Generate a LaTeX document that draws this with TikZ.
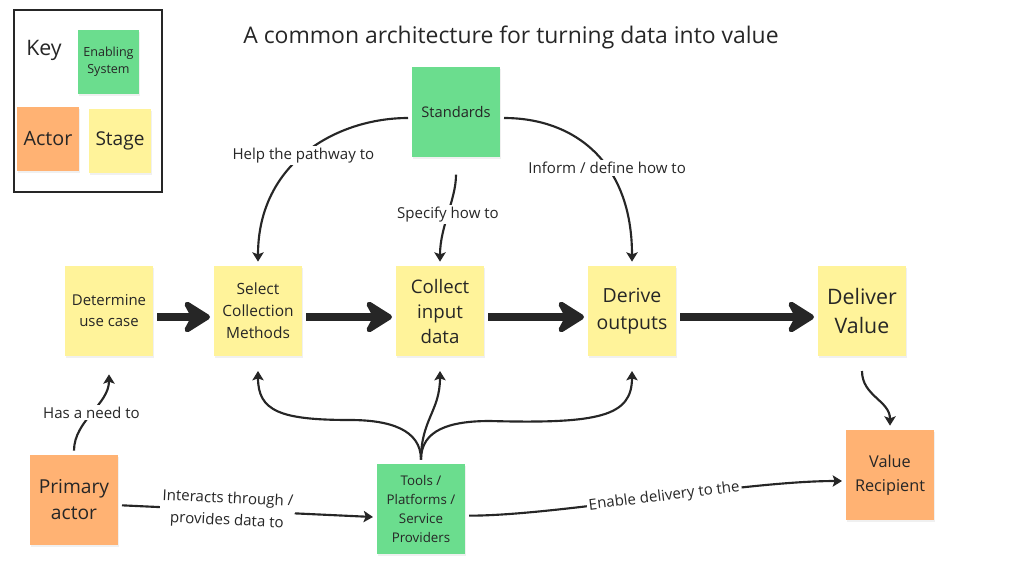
\documentclass[tikz,border=0pt]{standalone}
\usepackage{fontspec}
\setmainfont{Open Sans}
\usetikzlibrary{arrows.meta,shadows}

\definecolor{stagecol}{HTML}{FFF39A}
\definecolor{enablecol}{HTML}{6BDD8E}
\definecolor{actorcol}{HTML}{FFB273}
\definecolor{inkcol}{HTML}{262626}

\newcommand\notefont[2]{\fontsize{#1}{#2}\selectfont}

\tikzset{
  note/.style={minimum width=66pt, minimum height=68pt, align=center,
    text=inkcol, inner sep=2pt, outer sep=3pt,
    drop shadow={opacity=0.12, shadow xshift=0.6pt, shadow yshift=-1.5pt}},
  stage/.style={note, fill=stagecol},
  enabler/.style={note, fill=enablecol},
  actor/.style={note, fill=actorcol},
  flow/.style={line width=6pt, draw=inkcol,
    -{Stealth[length=24pt, width=30pt, inset=8pt, round]}},
  link/.style={line width=1.6pt, draw=inkcol,
    -{Stealth[length=7pt, width=8.5pt, inset=1.5pt]}},
  lbl/.style={fill=white, inner sep=1.5pt, text=inkcol, align=center,
    font=\notefont{11.3}{16.5}},
}

\begin{document}
\begin{tikzpicture}[x=0.75pt, y=-0.75pt]
  \useasboundingbox (0,0) rectangle (1024,567);

  % key
  \node[draw=inkcol, line width=1.1pt, minimum width=111pt,
    minimum height=136.5pt] (keybox) at (88,101) {};
  \node[text=inkcol, font=\notefont{16}{19}] (keylbl) at (44,50) {Key};
  \node[enabler, minimum width=46pt, minimum height=48pt,
    font=\notefont{9.4}{12.5}] (keyenab) at (108.5,62) {Enabling\\System};
  \node[actor, minimum width=46.5pt, minimum height=48pt,
    font=\notefont{14.8}{17}] (keyactor) at (48,139) {Actor};
  \node[stage, minimum width=46.5pt, minimum height=48pt,
    font=\notefont{14.3}{17}] (keystage) at (120,141) {Stage};

  \node[text=inkcol, font=\notefont{17.2}{20}] (title) at (511,37)
    {A common architecture for turning data into value};

  % notes
  \node[enabler, font=\notefont{11}{14}] (std) at (456,112) {Standards};
  \node[stage, font=\notefont{11.2}{15.75}] (det) at (109,311) {Determine\\use case};
  \node[stage, font=\notefont{11.6}{16.5}] (sel) at (258,311) {Select\\Collection\\Methods};
  \node[stage, font=\notefont{14}{18.75}] (col) at (440,311) {Collect\\input\\data};
  \node[stage, font=\notefont{14.6}{20.5}] (der) at (632,311) {Derive\\outputs};
  \node[stage, font=\notefont{16}{22}] (del) at (862,311) {Deliver\\Value};
  \node[actor, font=\notefont{14.4}{19.5}] (act) at (74,500) {Primary\\actor};
  \node[enabler, font=\notefont{10}{14.25}] (tools) at (421,509)
    {Tools /\\Platforms /\\Service\\Providers};
  \node[actor, font=\notefont{12.2}{18}] (rec) at (890,475) {Value\\Recipient};

  % main flow
  \begin{scope}[flow]
    \draw ([yshift=-4.5pt]det.east) -- ([yshift=-4.5pt]sel.west);
    \draw ([yshift=-4.5pt]sel.east) -- ([yshift=-4.5pt]col.west);
    \draw ([yshift=-4.5pt]col.east) -- ([yshift=-4.5pt]der.west);
    \draw ([yshift=-4.5pt]der.east) -- ([yshift=-4.5pt]del.west);
  \end{scope}

  % links
  \begin{scope}[link]
    \draw ([yshift=-4.5pt]std.west) .. controls +(-70,0) and +(0,-100) .. (sel.north)
      node[lbl, pos=0.52] {Help the pathway to};
    \draw ([yshift=-10pt]std.south) .. controls +(0,25) and +(0,-35) .. (col.north)
      node[lbl, pos=0.5] {Specify how to};
    \draw ([yshift=-4.5pt]std.east) .. controls +(70,0) and +(0,-100) .. (der.north)
      node[lbl, pos=0.6] {Inform / define how to};
    \draw (act.north) .. controls +(0,-30) and +(0,30) .. ([yshift=-10.5pt]det.south)
      node[lbl, pos=0.5] {Has a need to};
    \draw (tools.north) .. controls +(0,-30) and +(40,0) .. (350,420)
      .. controls +(-70,0) and +(0,40) .. ([yshift=-8pt]sel.south);
    \draw (tools.north) .. controls +(0,-40) and +(0,40) .. ([yshift=-8pt]col.south);
    \draw (tools.north) .. controls +(0,-30) and +(-40,0) .. (490,421)
      .. controls +(110,3) and +(0,45) .. ([yshift=-8pt]der.south);
    \draw ([yshift=-4pt]act.east) -- ([yshift=-6pt]tools.west)
      node[lbl, sloped, pos=0.42] {Interacts through /\\provides data to};
    \draw ([yshift=-5pt]tools.east) .. controls +(90,0) and +(-100,0) .. ([yshift=-4.5pt]rec.west)
      node[lbl, sloped, pos=0.53] {Enable delivery to the};
    \draw ([yshift=-8pt]del.south) .. controls +(0,25) and +(0,-25) .. (rec.north);
  \end{scope}
\end{tikzpicture}
\end{document}
